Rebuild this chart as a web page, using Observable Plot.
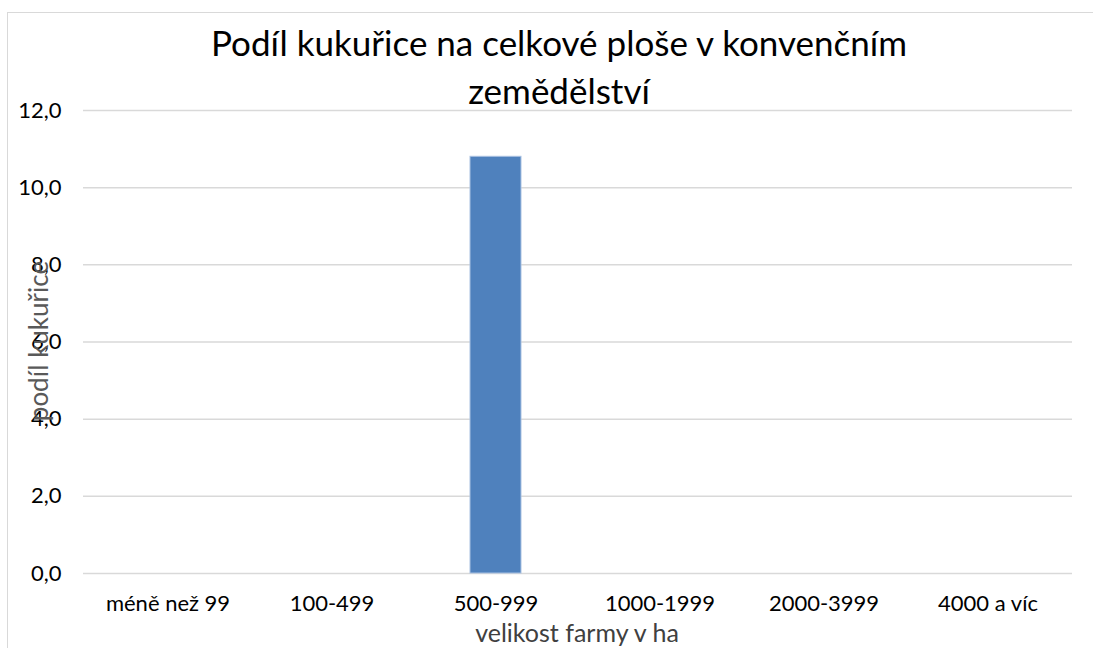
<!DOCTYPE html>
<html>
<head>
<meta charset="utf-8">
<script src="https://cdn.jsdelivr.net/npm/d3@7"></script>
<script src="https://cdn.jsdelivr.net/npm/@observablehq/plot@0.6"></script>
<style>
  html, body { margin: 0; padding: 0; background: #fff; overflow: hidden; }
  #wrap { position: relative; width: 1093px; height: 648px; font-family: Lato, "Open Sans", sans-serif; }
  #frame { position: absolute; left: 7px; top: 12px; width: 1200px; height: 800px; border: 1px solid #d9d9d9; box-sizing: border-box; }
  #chart { position: absolute; left: 0; top: 0; }
  .title { position: absolute; left: 559px; transform: translate(-50%, -50%); white-space: nowrap; font-size: 35px; color: #000; line-height: 1; }
  #ylab { position: absolute; left: 38px; top: 341px; transform: translate(-50%, -50%) rotate(-90deg); white-space: nowrap; font-size: 26px; color: #595959; line-height: 1; }
  #xlab { position: absolute; left: 577px; top: 632px; transform: translate(-50%, -50%); white-space: nowrap; font-size: 25px; color: #404040; line-height: 1; }
</style>
</head>
<body>
<div id="wrap">
  <div id="frame"></div>
  <div id="chart"></div>
  <div class="title" style="top:42px">Podíl kukuřice na celkové ploše v konvenčním</div>
  <div class="title" style="top:90px">zemědělství</div>
  <div id="ylab">podíl kukuřice</div>
  <div id="xlab">velikost farmy v ha</div>
</div>
<script>
const categories = ["méně než 99", "100-499", "500-999", "1000-1999", "2000-3999", "4000 a víc"];
const values = [0, 0, 10.8, 0, 0, 0];
const yTicks = [0, 2, 4, 6, 8, 10, 12];

const data = categories.map((c, i) => ({category: c, value: values[i]}));
const fmt = d => d.toFixed(1).replace(".", ",");

const chart = Plot.plot({
  width: 1093,
  height: 648,
  marginLeft: 83,
  marginRight: 21,
  marginTop: 110,
  marginBottom: 75,
  style: {fontFamily: "Lato, 'Open Sans', sans-serif", fontSize: "22px", color: "#000", background: "transparent"},
  x: {domain: categories, paddingInner: 0.69, paddingOuter: 0.345, label: null},
  y: {domain: [0, 12], label: null},
  marks: [
    Plot.gridY(yTicks, {stroke: "#d9d9d9", strokeOpacity: 1, strokeWidth: 1.5}),
    Plot.axisY(yTicks, {tickSize: 0, tickPadding: 22, tickFormat: fmt, label: null, fontSize: 22, fill: "#000"}),
    Plot.axisX({tickSize: 0, tickPadding: 22, label: null, fontSize: 22, fill: "#000"}),
    Plot.barY(data.filter(d => d.value > 0), {x: "category", y: "value", fill: "#4f81bd", stroke: "#a9c1e2", strokeWidth: 1})
  ]
});
document.getElementById("chart").appendChild(chart);
</script>
</body>
</html>
